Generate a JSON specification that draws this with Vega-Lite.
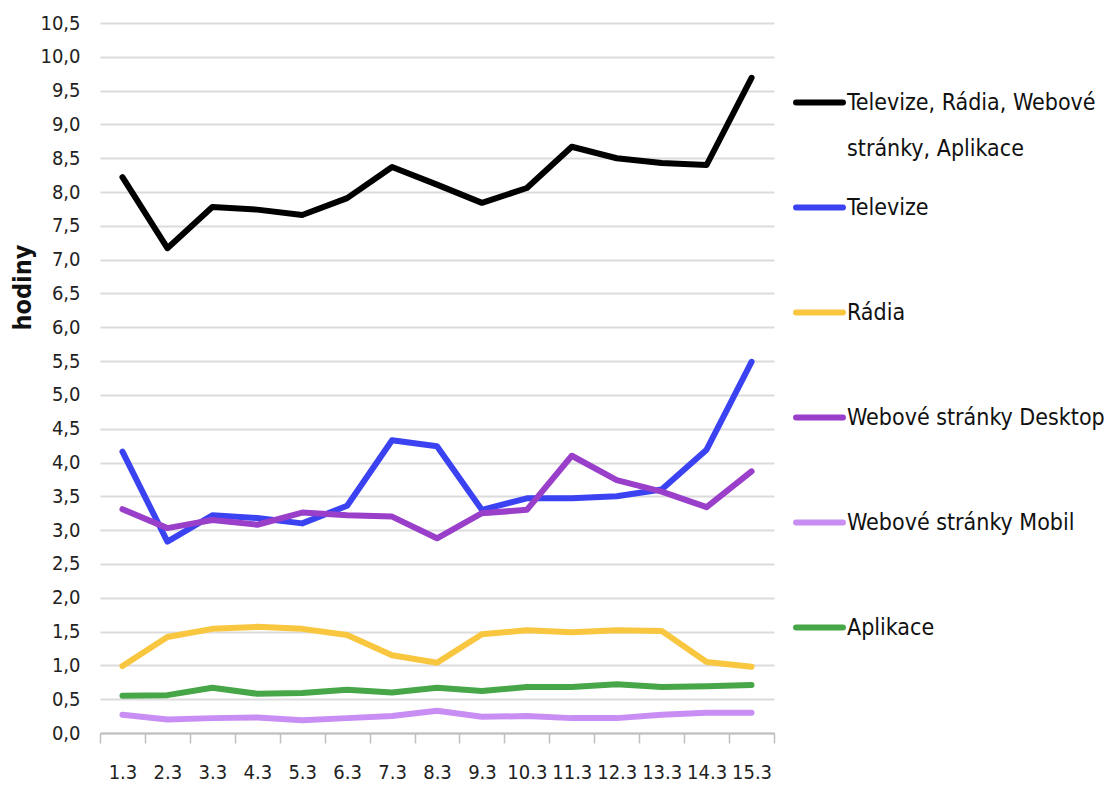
{
  "$schema": "https://vega.github.io/schema/vega-lite/v6.json",
  "autosize": {"type": "none"},
  "padding": {"left": 100, "top": 23, "right": 342, "bottom": 54},
  "width": 674,
  "height": 710,
  "background": "#ffffff",
  "config": {
    "font": "Liberation Sans Narrow, DejaVu Sans Condensed, Open Sans, sans-serif",
    "view": {"stroke": null}
  },
  "data": {
    "values": [
      {"den": "1.3", "rada": "Televize, Rádia, Webové stránky, Aplikace", "hodiny": 8.22},
      {"den": "2.3", "rada": "Televize, Rádia, Webové stránky, Aplikace", "hodiny": 7.17},
      {"den": "3.3", "rada": "Televize, Rádia, Webové stránky, Aplikace", "hodiny": 7.78},
      {"den": "4.3", "rada": "Televize, Rádia, Webové stránky, Aplikace", "hodiny": 7.74},
      {"den": "5.3", "rada": "Televize, Rádia, Webové stránky, Aplikace", "hodiny": 7.66},
      {"den": "6.3", "rada": "Televize, Rádia, Webové stránky, Aplikace", "hodiny": 7.91},
      {"den": "7.3", "rada": "Televize, Rádia, Webové stránky, Aplikace", "hodiny": 8.37},
      {"den": "8.3", "rada": "Televize, Rádia, Webové stránky, Aplikace", "hodiny": 8.11},
      {"den": "9.3", "rada": "Televize, Rádia, Webové stránky, Aplikace", "hodiny": 7.84},
      {"den": "10.3", "rada": "Televize, Rádia, Webové stránky, Aplikace", "hodiny": 8.06},
      {"den": "11.3", "rada": "Televize, Rádia, Webové stránky, Aplikace", "hodiny": 8.67},
      {"den": "12.3", "rada": "Televize, Rádia, Webové stránky, Aplikace", "hodiny": 8.5},
      {"den": "13.3", "rada": "Televize, Rádia, Webové stránky, Aplikace", "hodiny": 8.43},
      {"den": "14.3", "rada": "Televize, Rádia, Webové stránky, Aplikace", "hodiny": 8.4},
      {"den": "15.3", "rada": "Televize, Rádia, Webové stránky, Aplikace", "hodiny": 9.69},
      {"den": "1.3", "rada": "Televize", "hodiny": 4.16},
      {"den": "2.3", "rada": "Televize", "hodiny": 2.83},
      {"den": "3.3", "rada": "Televize", "hodiny": 3.22},
      {"den": "4.3", "rada": "Televize", "hodiny": 3.18},
      {"den": "5.3", "rada": "Televize", "hodiny": 3.1},
      {"den": "6.3", "rada": "Televize", "hodiny": 3.36},
      {"den": "7.3", "rada": "Televize", "hodiny": 4.33},
      {"den": "8.3", "rada": "Televize", "hodiny": 4.24},
      {"den": "9.3", "rada": "Televize", "hodiny": 3.3},
      {"den": "10.3", "rada": "Televize", "hodiny": 3.47},
      {"den": "11.3", "rada": "Televize", "hodiny": 3.47},
      {"den": "12.3", "rada": "Televize", "hodiny": 3.5},
      {"den": "13.3", "rada": "Televize", "hodiny": 3.6},
      {"den": "14.3", "rada": "Televize", "hodiny": 4.19},
      {"den": "15.3", "rada": "Televize", "hodiny": 5.49},
      {"den": "1.3", "rada": "Rádia", "hodiny": 0.99},
      {"den": "2.3", "rada": "Rádia", "hodiny": 1.42},
      {"den": "3.3", "rada": "Rádia", "hodiny": 1.54},
      {"den": "4.3", "rada": "Rádia", "hodiny": 1.57},
      {"den": "5.3", "rada": "Rádia", "hodiny": 1.54},
      {"den": "6.3", "rada": "Rádia", "hodiny": 1.45},
      {"den": "7.3", "rada": "Rádia", "hodiny": 1.15},
      {"den": "8.3", "rada": "Rádia", "hodiny": 1.04},
      {"den": "9.3", "rada": "Rádia", "hodiny": 1.46},
      {"den": "10.3", "rada": "Rádia", "hodiny": 1.52},
      {"den": "11.3", "rada": "Rádia", "hodiny": 1.49},
      {"den": "12.3", "rada": "Rádia", "hodiny": 1.52},
      {"den": "13.3", "rada": "Rádia", "hodiny": 1.51},
      {"den": "14.3", "rada": "Rádia", "hodiny": 1.05},
      {"den": "15.3", "rada": "Rádia", "hodiny": 0.98},
      {"den": "1.3", "rada": "Webové stránky Desktop", "hodiny": 3.31},
      {"den": "2.3", "rada": "Webové stránky Desktop", "hodiny": 3.03},
      {"den": "3.3", "rada": "Webové stránky Desktop", "hodiny": 3.15},
      {"den": "4.3", "rada": "Webové stránky Desktop", "hodiny": 3.08},
      {"den": "5.3", "rada": "Webové stránky Desktop", "hodiny": 3.26},
      {"den": "6.3", "rada": "Webové stránky Desktop", "hodiny": 3.22},
      {"den": "7.3", "rada": "Webové stránky Desktop", "hodiny": 3.2},
      {"den": "8.3", "rada": "Webové stránky Desktop", "hodiny": 2.88},
      {"den": "9.3", "rada": "Webové stránky Desktop", "hodiny": 3.25},
      {"den": "10.3", "rada": "Webové stránky Desktop", "hodiny": 3.3},
      {"den": "11.3", "rada": "Webové stránky Desktop", "hodiny": 4.1},
      {"den": "12.3", "rada": "Webové stránky Desktop", "hodiny": 3.74},
      {"den": "13.3", "rada": "Webové stránky Desktop", "hodiny": 3.57},
      {"den": "14.3", "rada": "Webové stránky Desktop", "hodiny": 3.34},
      {"den": "15.3", "rada": "Webové stránky Desktop", "hodiny": 3.87},
      {"den": "1.3", "rada": "Webové stránky Mobil", "hodiny": 0.27},
      {"den": "2.3", "rada": "Webové stránky Mobil", "hodiny": 0.2},
      {"den": "3.3", "rada": "Webové stránky Mobil", "hodiny": 0.22},
      {"den": "4.3", "rada": "Webové stránky Mobil", "hodiny": 0.23},
      {"den": "5.3", "rada": "Webové stránky Mobil", "hodiny": 0.19},
      {"den": "6.3", "rada": "Webové stránky Mobil", "hodiny": 0.22},
      {"den": "7.3", "rada": "Webové stránky Mobil", "hodiny": 0.25},
      {"den": "8.3", "rada": "Webové stránky Mobil", "hodiny": 0.33},
      {"den": "9.3", "rada": "Webové stránky Mobil", "hodiny": 0.24},
      {"den": "10.3", "rada": "Webové stránky Mobil", "hodiny": 0.25},
      {"den": "11.3", "rada": "Webové stránky Mobil", "hodiny": 0.22},
      {"den": "12.3", "rada": "Webové stránky Mobil", "hodiny": 0.22},
      {"den": "13.3", "rada": "Webové stránky Mobil", "hodiny": 0.27},
      {"den": "14.3", "rada": "Webové stránky Mobil", "hodiny": 0.3},
      {"den": "15.3", "rada": "Webové stránky Mobil", "hodiny": 0.3},
      {"den": "1.3", "rada": "Aplikace", "hodiny": 0.55},
      {"den": "2.3", "rada": "Aplikace", "hodiny": 0.56},
      {"den": "3.3", "rada": "Aplikace", "hodiny": 0.67},
      {"den": "4.3", "rada": "Aplikace", "hodiny": 0.58},
      {"den": "5.3", "rada": "Aplikace", "hodiny": 0.59},
      {"den": "6.3", "rada": "Aplikace", "hodiny": 0.64},
      {"den": "7.3", "rada": "Aplikace", "hodiny": 0.6},
      {"den": "8.3", "rada": "Aplikace", "hodiny": 0.67},
      {"den": "9.3", "rada": "Aplikace", "hodiny": 0.62},
      {"den": "10.3", "rada": "Aplikace", "hodiny": 0.68},
      {"den": "11.3", "rada": "Aplikace", "hodiny": 0.68},
      {"den": "12.3", "rada": "Aplikace", "hodiny": 0.72},
      {"den": "13.3", "rada": "Aplikace", "hodiny": 0.68},
      {"den": "14.3", "rada": "Aplikace", "hodiny": 0.69},
      {"den": "15.3", "rada": "Aplikace", "hodiny": 0.71}
    ]
  },
  "mark": {"type": "line", "strokeWidth": 6, "strokeCap": "round", "strokeJoin": "round"},
  "encoding": {
    "x": {
      "field": "den",
      "type": "ordinal",
      "sort": ["1.3", "2.3", "3.3", "4.3", "5.3", "6.3", "7.3", "8.3", "9.3", "10.3", "11.3", "12.3", "13.3", "14.3", "15.3"],
      "scale": {"type": "band", "paddingInner": 0, "paddingOuter": 0},
      "axis": {
        "title": null,
        "labelAngle": 0,
        "labelFontSize": 20,
        "labelColor": "#222222",
        "labelPadding": 19,
        "tickBand": "extent",
        "tickSize": 10,
        "tickColor": "#bfbfbf",
        "tickWidth": 1.5,
        "domainColor": "#bfbfbf",
        "domainWidth": 2,
        "grid": false
      }
    },
    "y": {
      "field": "hodiny",
      "type": "quantitative",
      "scale": {"domain": [0, 10.5], "nice": false, "zero": true},
      "axis": {
        "title": "hodiny",
        "titleFontSize": 25,
        "titleFontWeight": "bold",
        "titleColor": "#111111",
        "titleAngle": -90,
        "titleAnchor": null,
        "titleAlign": "center",
        "titleBaseline": "alphabetic",
        "titleX": -70,
        "titleY": 264,
        "values": [0, 0.5, 1, 1.5, 2, 2.5, 3, 3.5, 4, 4.5, 5, 5.5, 6, 6.5, 7, 7.5, 8, 8.5, 9, 9.5, 10, 10.5],
        "labelExpr": "replace(format(datum.value, '.1f'), '.', ',')",
        "labelFontSize": 20,
        "labelColor": "#222222",
        "labelPadding": 20,
        "domain": false,
        "ticks": false,
        "grid": true,
        "gridColor": "#dcdcdc",
        "gridWidth": 2
      }
    },
    "color": {
      "field": "rada",
      "type": "nominal",
      "scale": {
        "domain": ["Televize, Rádia, Webové stránky, Aplikace", "Televize", "Rádia", "Webové stránky Desktop", "Webové stránky Mobil", "Aplikace"],
        "range": ["#000000", "#3a42f2", "#f9c63f", "#9a3fc9", "#c88ef4", "#46a648"]
      },
      "legend": {
        "title": null,
        "orient": "none",
        "legendX": 693,
        "legendY": 53,
        "padding": 0,
        "symbolType": "stroke",
        "symbolSize": 2200,
        "symbolStrokeWidth": 6,
        "labelFontSize": 23,
        "labelColor": "#111111",
        "labelOffset": 1,
        "labelLimit": 400,
        "labelBaseline": "middle",
        "rowPadding": 20,
        "gridAlign": "all",
        "labelExpr": "datum.label == 'Televize, Rádia, Webové stránky, Aplikace' ? ['Televize, Rádia, Webové', 'stránky, Aplikace'] : datum.label",
        "encode": {
          "labels": {"update": {"lineHeight": {"value": 46}}},
          "symbols": {"update": {"strokeCap": {"value": "round"}}}
        }
      }
    }
  }
}
